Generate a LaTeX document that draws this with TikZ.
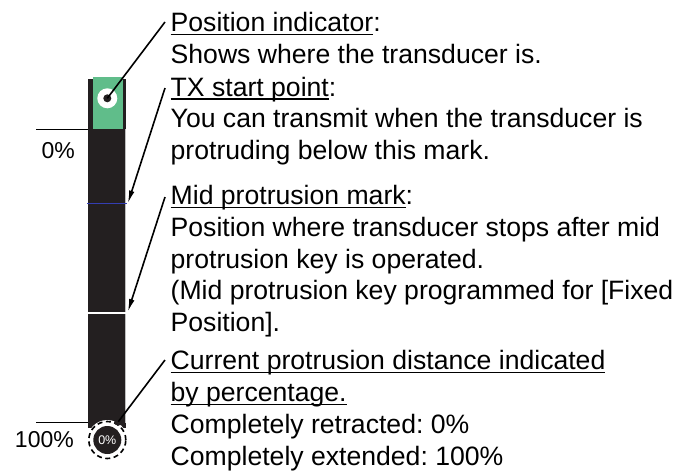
\documentclass[tikz,border=0pt]{standalone}
\usepackage{fontspec}
\setmainfont{Liberation Sans}
\usetikzlibrary{arrows.meta}
\usepackage{xcolor}
\definecolor{barblack}{RGB}{35,31,32}
\definecolor{posgreen}{RGB}{96,189,138}
\definecolor{txblue}{RGB}{52,62,178}
\newsavebox{\ulsave}
\newcommand{\ulbox}[1]{\sbox{\ulsave}{#1}\rlap{\rule[-3.4pt]{\wd\ulsave}{1.3pt}}\usebox{\ulsave}}
\frenchspacing

\begin{document}
\begin{tikzpicture}[x=1pt,y=-1pt,>={Latex[length=13pt,width=5.5pt]}, every node/.style={font=\fontsize{26.6}{31.7}\selectfont}]
\tikzstyle{note}=[align=left,anchor=base west,inner sep=0pt]
\tikzstyle{leader}=[line width=1.6pt]
\tikzstyle{dot}=[circle,fill=barblack,inner sep=0pt,minimum size=8pt]
\tikzstyle{pct}=[anchor=base east,inner sep=0pt,font=\fontsize{23}{27}\selectfont]
\useasboundingbox (0,0) rectangle (675,471);
% bar
\fill[barblack] (88,79) rectangle (125.5,428);
\fill[posgreen] (93.3,77.3) rectangle (123,129.3);
\draw[gray!50,line width=0.6pt] (125.4,129.3) -- (125.4,423);
\draw[txblue,line width=1.8pt] (87.3,203.5) -- (126.8,203.5);
\draw[white,line width=1.8pt] (87,313) -- (127,313);
% 0% and 100% marks
\draw[line width=1.4pt] (36,129.3) -- (88,129.3);
\draw[line width=1.4pt] (36,422.7) -- (88,422.7);
\node[pct] (zero) at (75,158) {0\%};
\node[pct] (full) at (74,447) {100\%};
% percentage display
\node[circle,fill=white,minimum size=40pt,inner sep=0pt] (ring) at (107.3,440) {};
\node[circle,fill=barblack,minimum size=28pt,inner sep=0pt,text=white,font=\fontsize{12.5}{13}\selectfont] (pctdisp) at (107.3,440) {0\%};
\node[circle,draw,dash pattern=on 5pt off 3.5pt,line width=1.6pt,minimum size=37pt,inner sep=0pt] (pctring) at (107.3,440) {};
% position indicator
\node[circle,fill=white,minimum size=20pt,inner sep=0pt] (poswhite) at (107.3,98.3) {};
\node[dot] (posdot) at (107.3,98.3) {};
\node[dot] (curdot) at (118.3,421.7) {};
% notes (anchored on the baseline of the last line)
\node[note] (posnote) at (170.5,63.5) {\ulbox{Position indicator}:\\Shows where the transducer is.};
\node[note] (txnote) at (170.5,159.5) {\ulbox{TX start point}:\\You can transmit when the transducer is\\protruding below this mark.};
\node[note] (midnote) at (170.5,331.5) {\ulbox{Mid protrusion mark}:\\Position where transducer stops after mid\\protrusion key is operated.\\(Mid protrusion key programmed for [Fixed\\Position].};
\node[note] (curnote) at (170.5,465) {\ulbox{Current protrusion distance indicated}\\\ulbox{by percentage.}\\Completely retracted: 0\%\\Completely extended: 100\%};
% leaders
\coordinate (posend) at (165,22);
\coordinate (txend) at (165,88);
\coordinate (midend) at (165,197);
\coordinate (curend) at (165,360);
\coordinate (txmark) at (127.8,203.5);
\coordinate (midmark) at (127.8,312);
\draw[leader] (posdot.center) -- (posend);
\draw[leader,->] (txend) -- (txmark);
\draw[leader,->] (midend) -- (midmark);
\draw[leader] (curdot.center) -- (curend);
\end{tikzpicture}
\end{document}
